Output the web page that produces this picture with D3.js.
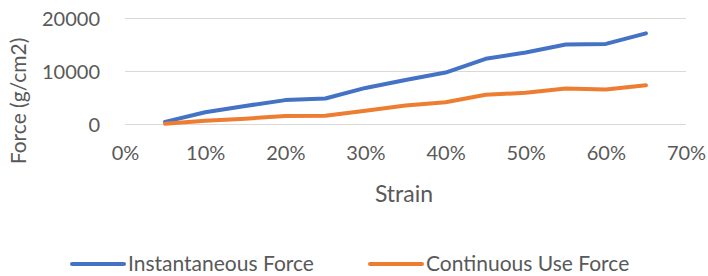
<!DOCTYPE html>
<html>
<head>
<meta charset="utf-8">
<script src="https://cdn.jsdelivr.net/npm/d3@7"></script>
<style>
  body { margin: 0; background: #fff; }
  svg text { font-family: Lato, "Open Sans", sans-serif; fill: #595959; }
</style>
</head>
<body>
<svg class="chart" width="708" height="276"></svg>
<script>
// Static data
const strain = [0.05, 0.10, 0.15, 0.20, 0.25, 0.30, 0.35, 0.40, 0.45, 0.50, 0.55, 0.60, 0.65];
const instantaneous = [500, 2300, 3500, 4600, 4900, 6900, 8400, 9800, 12400, 13600, 15100, 15200, 17200];
const continuous = [150, 700, 1100, 1600, 1650, 2600, 3600, 4200, 5600, 6000, 6800, 6600, 7400];
const seriesNames = ['Instantaneous Force', 'Continuous Use Force'];
const seriesColors = ['#4472C4', '#ED7D31'];
const xTicks = [0, 0.1, 0.2, 0.3, 0.4, 0.5, 0.6, 0.7];
const yTicks = [0, 10000, 20000];

const margin = { top: 18.5, right: 22, bottom: 151.5, left: 125 };
const w = 708 - margin.left - margin.right;
const h = 276 - margin.top - margin.bottom;

const svg = d3.select('.chart');
const g = svg.append('g').attr('transform', `translate(${margin.left}, ${margin.top})`);

const x = d3.scaleLinear().domain([0, 0.7]).range([0, w]);
const y = d3.scaleLinear().domain([0, 20000]).range([h, 0]);

// gridlines
g.selectAll('.grid')
  .data(yTicks)
  .enter().append('line')
  .attr('x1', 0)
  .attr('x2', w)
  .attr('y1', d => y(d))
  .attr('y2', d => y(d))
  .attr('stroke', '#d9d9d9')
  .attr('stroke-width', 1.2);

const yAxis = d3.axisLeft(y).tickValues(yTicks).tickSize(0).tickPadding(25).tickFormat(d3.format('d'));
const xAxis = d3.axisBottom(x).tickValues(xTicks).tickSize(0).tickPadding(22).tickFormat(d3.format('.0%'));

g.append('g').call(yAxis)
  .call(a => a.select('.domain').remove())
  .selectAll('text').style('font-size', '20px').attr('dy', '0.35em');

g.append('g').attr('transform', `translate(0, ${h})`).call(xAxis)
  .call(a => a.select('.domain').remove())
  .selectAll('text').style('font-size', '20px').attr('dy', '0.68em');

// lines
const line = d3.line().x((d, i) => x(strain[i])).y(d => y(d));
[instantaneous, continuous].forEach((vals, k) => {
  g.append('path')
    .datum(vals)
    .attr('d', line)
    .attr('fill', 'none')
    .attr('stroke', seriesColors[k])
    .attr('stroke-width', 4)
    .attr('stroke-linecap', 'round')
    .attr('stroke-linejoin', 'round');
});

// axis titles
svg.append('text')
  .attr('transform', 'translate(26, 101) rotate(-90)')
  .attr('text-anchor', 'middle')
  .style('font-size', '21px')
  .text('Force (g/cm2)');

svg.append('text')
  .attr('x', 404)
  .attr('y', 202)
  .attr('text-anchor', 'middle')
  .style('font-size', '23px')
  .text('Strain');

// legend
const legendX = [70, 368];
const legend = svg.selectAll('.legend')
  .data(seriesNames)
  .enter().append('g')
  .attr('class', 'legend')
  .attr('transform', (d, i) => `translate(${legendX[i]}, 264)`);

legend.append('line')
  .attr('x1', 2).attr('x2', 54)
  .attr('stroke', (d, i) => seriesColors[i])
  .attr('stroke-width', 4)
  .attr('stroke-linecap', 'round');

legend.append('text')
  .attr('x', 58)
  .attr('dy', '0.33em')
  .style('font-size', '21px')
  .text(d => d);
</script>
</body>
</html>
